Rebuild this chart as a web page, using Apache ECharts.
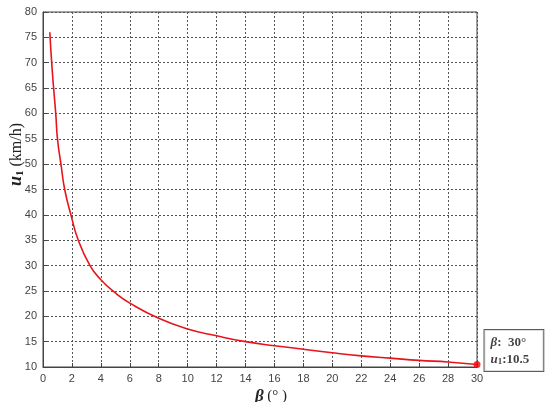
<!DOCTYPE html>
<html>
<head>
<meta charset="utf-8">
<script src="https://cdn.jsdelivr.net/npm/echarts@6/dist/echarts.min.js"></script>
<style>html,body{margin:0;padding:0;background:#fff}#c{width:550px;height:402px}</style>
</head>
<body>
<div id="c"></div>
<script>
var beta = [0.47,0.65,0.88,1.0,1.24,1.5,1.93,2.44,3.25,4,5,6,8,10,12,14,16,18,20,22,24,26,28,30];
var u1   = [76,68,60,55,50,45,40,35,30,27.2,24.6,22.6,19.6,17.5,16.15,15.0,14.2,13.5,12.8,12.2,11.75,11.3,11.0,10.5];
var xTicks = [0,2,4,6,8,10,12,14,16,18,20,22,24,26,28,30];
var yTicks = [10,15,20,25,30,35,40,45,50,55,60,65,70,75,80];
var markBeta = 30, markU = 10.5;

var chart = echarts.init(document.getElementById('c'));
var gridLine = {show:true, lineStyle:{color:'#555', type:[2,2], width:1}};
var tickFont = {fontFamily:'Liberation Sans, Arial', fontSize:11, color:'#444'};
chart.setOption({
  animation:false,
  grid:{left:43, right:73, top:12, bottom:35, show:true, borderColor:'#444', borderWidth:1,
        containLabel:false, outerBoundsMode:'none'},
  xAxis:{type:'value', min:xTicks[0], max:xTicks[xTicks.length-1], interval:2,
    axisLine:{lineStyle:{color:'#444'}}, axisTick:{inside:true, length:4, lineStyle:{color:'#444'}},
    axisLabel:Object.assign({margin:6}, tickFont), splitLine:gridLine,
    name:'{b|β}{t| (° )}', nameLocation:'middle', nameGap:21, nameMoveOverlap:false,
    nameTextStyle:{padding:[0,0,0,22], rich:{b:{fontFamily:'Liberation Serif',fontStyle:'italic',fontWeight:'bold',fontSize:17,color:'#222'},
      t:{fontFamily:'Liberation Serif',fontSize:15,color:'#222'}}}},
  yAxis:{type:'value', min:yTicks[0], max:yTicks[yTicks.length-1], interval:5,
    axisLine:{lineStyle:{color:'#444'}}, axisTick:{inside:true, length:4, lineStyle:{color:'#444'}},
    axisLabel:Object.assign({margin:6}, tickFont), splitLine:gridLine,
    name:'{u|u}{s|1}{t| (km/h)}', nameLocation:'middle', nameGap:17, nameRotate:90, nameMoveOverlap:false,
    nameTextStyle:{padding:[0,0,0,70], rich:{u:{fontFamily:'Liberation Serif',fontStyle:'italic',fontWeight:'bold',fontSize:18,color:'#222'},
      s:{fontFamily:'Liberation Serif',fontWeight:'bold',fontSize:11,color:'#222',padding:[8,0,0,0]},
      t:{fontFamily:'Liberation Serif',fontSize:16,color:'#222'}}}},
  series:[
    {type:'line', data:beta.map(function(b,i){return [b,u1[i]];}), smooth:0.5, showSymbol:false,
     lineStyle:{color:'#e8141c', width:1.6}},
    {type:'scatter', data:[[markBeta, markU]], symbolSize:7, itemStyle:{color:'#ff0000'},
     label:{show:true, position:'right', distance:4, offset:[0,-14],
       formatter:'{b|β}{n|:  '+markBeta+'°}\n{u|u}{s|1}{n|:'+markU+'}',
       backgroundColor:'#fff', borderColor:'#333', borderWidth:1, padding:[4,14,3,6], lineHeight:17,
       rich:{b:{fontFamily:'Liberation Serif',fontStyle:'italic',fontWeight:'bold',fontSize:13,color:'#111'},
         u:{fontFamily:'Liberation Serif',fontStyle:'italic',fontWeight:'bold',fontSize:13,color:'#111'},
         s:{fontFamily:'Liberation Serif',fontWeight:'bold',fontSize:9,color:'#111',padding:[5,0,0,0]},
         n:{fontFamily:'Liberation Serif',fontWeight:'bold',fontSize:13,color:'#111'}}}}
  ]
});
</script>
</body>
</html>
